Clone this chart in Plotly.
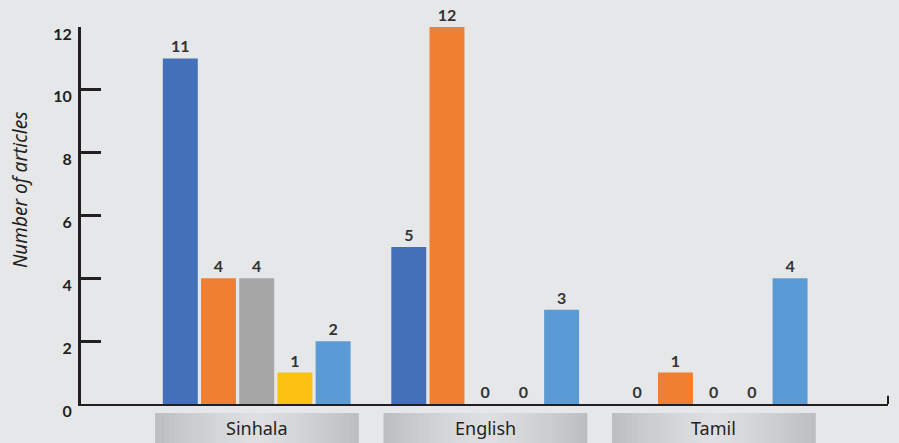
import plotly.graph_objects as go

categories = ["Sinhala", "English", "Tamil"]
series_names = ["Series 1", "Series 2", "Series 3", "Series 4", "Series 5"]
series_values = [
    [11, 5, 0],
    [4, 12, 1],
    [4, 0, 0],
    [1, 0, 0],
    [2, 3, 4],
]
series_colors = ["#4470b9", "#f07f31", "#a6a6a6", "#fcc212", "#5b9bd5"]
y_ticks = [0, 2, 4, 6, 8, 10, 12]
y_title = "Number of articles"

INK = "#231f20"
BG = "#e6e7e9"

fig = go.Figure()
for name, vals, col in zip(series_names, series_values, series_colors):
    fig.add_trace(go.Bar(
        x=list(range(len(categories))), y=vals, name=name,
        marker=dict(color=col, line=dict(width=0)),
        text=[str(v) for v in vals], textposition="outside",
        textfont=dict(family="Lato", size=16, color="#333333", weight="bold"),
        cliponaxis=False,
    ))

shapes = []
# gradient label boxes under each category
n_strips = 40
half = 0.445
for i, _ in enumerate(categories):
    for k in range(n_strips):
        t = (k + 0.5) / n_strips
        d = abs(t - 0.5) * 2  # 0 center, 1 edge
        c0 = (222, 223, 225)
        c1 = (188, 189, 192)
        w = d ** 1.3
        rgb = tuple(int(round(c0[j] + (c1[j] - c0[j]) * w)) for j in range(3))
        shapes.append(dict(
            type="rect", xref="x", yref="paper",
            x0=i - half + 2 * half * k / n_strips,
            x1=i - half + 2 * half * (k + 1) / n_strips + 0.002,
            y0=-0.11, y1=-0.024,
            fillcolor="rgb(%d,%d,%d)" % rgb, line=dict(width=0), layer="below",
        ))
# small end tick at the right end of the baseline
shapes.append(dict(type="line", xref="paper", yref="paper", x0=1, x1=1, y0=0, y1=0.022,
                   line=dict(color=INK, width=2)))

annotations = [
    dict(x=i, y=-0.064, xref="x", yref="paper", text=c, showarrow=False,
         font=dict(family="Noto Sans", size=18, color=INK), yanchor="middle")
    for i, c in enumerate(categories)
]
annotations.append(dict(
    x=-0.0756, y=0.57, xref="paper", yref="paper", text=y_title, textangle=-90,
    showarrow=False, font=dict(family="Noto Sans", size=19, color=INK, style="italic"),
    xanchor="center", yanchor="middle",
))

fig.update_layout(
    width=899, height=443,
    margin=dict(l=81, r=11, t=27, b=39),
    paper_bgcolor=BG, plot_bgcolor=BG,
    barmode="group", bargap=0.164, bargroupgap=0.085,
    showlegend=False,
    shapes=shapes, annotations=annotations,
    xaxis=dict(
        range=[-0.769, 2.763], showgrid=False, zeroline=False,
        showticklabels=False, ticks="",
        showline=True, linecolor=INK, linewidth=2, fixedrange=True,
    ),
    yaxis=dict(
        range=[0, 12], tickvals=y_ticks, showgrid=False, zeroline=False,
        ticks="inside", ticklen=20, tickwidth=3, tickcolor=INK,
        showline=True, linecolor=INK, linewidth=3,
        tickfont=dict(family="Lato", size=16, color=INK, weight="bold"),
        ticklabelstandoff=3, ticklabelshift=7, fixedrange=True,
    ),
)

fig.write_html(
    "out.html",
    config={"displayModeBar": False},
    post_script="document.body.style.margin='0';document.body.style.background='#e6e7e9';",
)
